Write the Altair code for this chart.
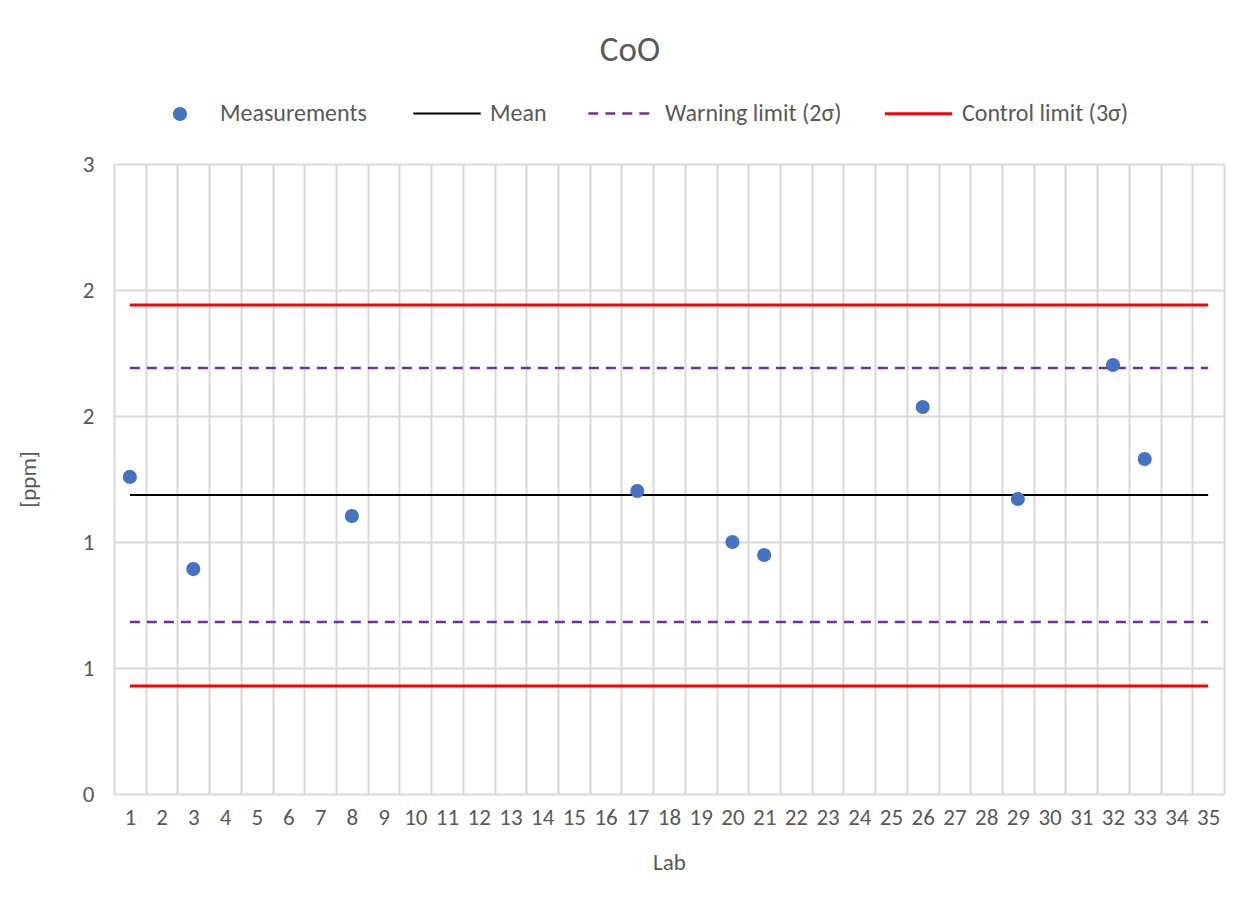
import altair as alt
import pandas as pd

# ---- data ----
labs_all = list(range(1, 36))
meas_labs = [1, 3, 8, 17, 20, 21, 26, 29, 32, 33]
meas_vals = [1.510, 1.071, 1.324, 1.443, 1.200, 1.138, 1.843, 1.405, 2.043, 1.595]

line_ids = ["mean", "warn_up", "warn_lo", "ctrl_up", "ctrl_lo"]
line_series = ["Mean", "Warning limit (2σ)", "Warning limit (2σ)",
               "Control limit (3σ)", "Control limit (3σ)"]
line_vals = [1.424, 2.029, 0.819, 2.329, 0.514]
line_ends = [1, 35]

series_names = ["Mean", "Warning limit (2σ)", "Control limit (3σ)"]
series_colors = ["#000000", "#7030A0", "#FF0000"]
series_dash = [[1, 0], [10, 7], [1, 0]]
series_width = [2, 3, 3]

y_ticks = [0, 0.6, 1.2, 1.8, 2.4, 3.0]

meas_df = pd.DataFrame({"lab": meas_labs, "value": meas_vals,
                        "series": ["Measurements"] * len(meas_labs)})
rows = []
for lid, s, v in zip(line_ids, line_series, line_vals):
    for lab in line_ends:
        rows.append({"id": lid, "series": s, "lab": lab, "value": v})
lines_df = pd.DataFrame(rows)

FONT = "Calibri, Carlito, Lato, sans-serif"
TXT = "#595959"
GRID = "#D9D9D9"

x_enc = alt.X("lab:O",
              scale=alt.Scale(domain=labs_all, paddingInner=0, paddingOuter=0),
              axis=alt.Axis(title="Lab", labelAngle=0, tickBand="extent",
                            grid=True, gridColor=GRID, gridWidth=2,
                            ticks=False, domain=False,
                            labelFontSize=23, labelColor=TXT, labelPadding=12,
                            labelFont=FONT,
                            titleFont=FONT, titleFontSize=23, titleColor=TXT,
                            titleFontWeight="normal",
                            titleX=555, titleY=68, titleBaseline="middle"))
y_enc = alt.Y("value:Q",
              scale=alt.Scale(domain=[0, 3], nice=False, zero=True),
              axis=alt.Axis(title="[ppm]", values=y_ticks, format=".0f",
                            grid=True, gridColor=GRID, gridWidth=2,
                            ticks=False, domain=False,
                            labelFontSize=23, labelColor=TXT, labelPadding=20,
                            labelFont=FONT,
                            titleFont=FONT, titleFontSize=23, titleColor=TXT,
                            titleFontWeight="normal",
                            titleX=-86, titleY=315, titleBaseline="middle",
                            titleAlign="center"))

line_legend = alt.Legend(title=None, orient="none", direction="horizontal",
                         legendX=298, legendY=-86,
                         symbolType="stroke", symbolSize=4550,
                         symbolStrokeWidth=2.5, labelLimit=400,
                         labelOffset=8, columnPadding=36,
                         labelFont=FONT, labelFontSize=24, labelColor=TXT)

lines = alt.Chart(lines_df).mark_line().encode(
    x=x_enc, y=y_enc, detail="id:N",
    stroke=alt.Stroke("series:N",
                      scale=alt.Scale(domain=series_names, range=series_colors),
                      legend=line_legend),
    strokeDash=alt.StrokeDash("series:N",
                              scale=alt.Scale(domain=series_names, range=series_dash),
                              legend=line_legend),
    strokeWidth=alt.StrokeWidth("series:N",
                                scale=alt.Scale(domain=series_names, range=series_width),
                                legend=None),
)

points = alt.Chart(meas_df).mark_circle(size=200, opacity=1).encode(
    x=x_enc, y=y_enc,
    color=alt.Color("series:N",
                    scale=alt.Scale(domain=["Measurements"], range=["#4472C4"]),
                    legend=alt.Legend(title=None, orient="none",
                                      direction="horizontal",
                                      legendX=54, legendY=-62,
                                      symbolSize=200, labelOffset=28,
                                      labelLimit=400,
                                      labelFont=FONT, labelFontSize=24,
                                      labelColor=TXT)),
)

chart = alt.layer(lines, points).resolve_legend(
    color="independent", stroke="shared"
).properties(
    width=1110, height=630,
    autosize=alt.AutoSizeParams(type="none"),
    padding={"left": 106, "top": 156, "right": 20, "bottom": 100},
    title=alt.TitleParams("CoO", font=FONT, fontSize=35, fontWeight="normal",
                          color=TXT, anchor="middle", dx=-39, offset=10),
).configure_view(stroke=None).configure(background="white")

chart.save("out.html", embed_options={"renderer": "svg", "actions": False})
